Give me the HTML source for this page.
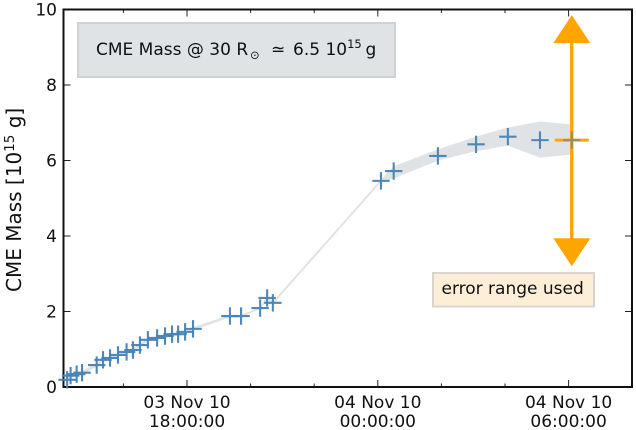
<!DOCTYPE html>
<html>
<head>
<meta charset="utf-8">
<title>CME Mass chart</title>
<style>
html,body{margin:0;padding:0;background:#fff;width:636px;height:430px;overflow:hidden}
svg{display:block}
text{font-family:"DejaVu Sans","Liberation Sans",sans-serif;fill:#111}
</style>
</head>
<body>
<svg id="chart" width="636" height="430" viewBox="0 0 636 430" xmlns="http://www.w3.org/2000/svg">
  <g id="band-layer"></g>
  <g id="tick-layer"></g>
  <rect x="63.5" y="9.5" width="568.5" height="377.5" fill="none" stroke="#111" stroke-width="2"/>
  <g id="label-layer" font-size="17"></g>
  <text transform="translate(21,292) rotate(-90)" font-size="20">CME Mass [10<tspan dy="-7" font-size="13.5">15</tspan><tspan dy="7"> g]</tspan></text>

  <rect x="78" y="23" width="317" height="54" fill="#e0e3e6" stroke="#cfd2d3" stroke-width="2"/>
  <text y="55" font-size="17"><tspan x="96">CME Mass @ 30 R</tspan><tspan x="250" font-size="11.5" dy="4">⊙</tspan><tspan x="271" dy="-4">≃</tspan><tspan x="293">6.5 10</tspan><tspan font-size="11.5" dy="-7">15</tspan><tspan x="365.5" dy="7">g</tspan></text>

  <rect x="433" y="273" width="161" height="33.5" fill="#fdeed8" stroke="#d9d5cd" stroke-width="2"/>
  <text x="441.5" y="294" font-size="17">error range used</text>

  <g id="error-layer"></g>
  <g id="marker-layer"></g>
</svg>
<script>
var hoursFrom18h = [-3.77,-3.66,-3.47,-3.30,-2.84,-2.64,-2.42,-2.17,-1.90,-1.70,-1.48,-1.23,-0.94,-0.69,-0.47,-0.28,-0.06,0.19,1.35,1.70,2.30,2.52,2.70,6.10,6.50,7.89,9.09,10.09,11.10,12.10];
var massValues = [0.19,0.30,0.34,0.38,0.58,0.72,0.77,0.85,0.93,0.98,1.11,1.25,1.30,1.35,1.40,1.40,1.46,1.54,1.88,1.88,2.09,2.36,2.23,5.46,5.72,6.12,6.43,6.63,6.54,6.54];
var massUpper = [0.22,0.33,0.37,0.41,0.61,0.75,0.80,0.88,0.96,1.01,1.14,1.28,1.33,1.38,1.43,1.43,1.49,1.57,1.90,1.90,2.10,2.37,2.25,5.48,5.83,6.28,6.62,6.86,7.02,6.94];
var massLower = [0.16,0.27,0.31,0.35,0.55,0.69,0.74,0.82,0.90,0.95,1.08,1.22,1.27,1.32,1.37,1.37,1.43,1.51,1.86,1.86,2.08,2.35,2.21,5.44,5.54,6.01,6.26,6.41,6.09,6.17];
var xMajorHours = [0,6,12];
var xMinorHours = [-2,2,4,8,10];
var xDateLabels = ["03 Nov 10","04 Nov 10","04 Nov 10"];
var xTimeLabels = ["18:00:00","00:00:00","06:00:00"];
var yTickValues = [0,2,4,6,8,10];
var errorTop = [9.85];
var errorBottom = [3.2];

var SVGNS = "http://www.w3.org/2000/svg";
function xPos(h){ return 187 + h * 31.8; }
function yPos(m){ return 387 - m * 37.75; }
function make(tag, parent){
  var el = document.createElementNS(SVGNS, tag);
  document.getElementById(parent).appendChild(el);
  return el;
}
function setAll(el, attrs){
  for (var k in attrs) el.setAttribute(k, attrs[k]);
}

/* uncertainty band */
var bandPts = [];
hoursFrom18h.forEach(function(h,i){ bandPts.push(xPos(h).toFixed(1)+","+yPos(massUpper[i]).toFixed(1)); });
for (var i = hoursFrom18h.length-1; i >= 0; i--){ bandPts.push(xPos(hoursFrom18h[i]).toFixed(1)+","+yPos(massLower[i]).toFixed(1)); }
var band = make("polygon","band-layer");


setAll(band,{points:bandPts.join(" "),fill:"#e0e3e6",stroke:"#e0e3e6","stroke-width":1,"stroke-linejoin":"round"});

/* ticks */
function xTick(h,len,name){
  [[387,387-len],[9.5,9.5+len]].forEach(function(p){
    var t = make("line","tick-layer");
    
    
    setAll(t,{x1:xPos(h),x2:xPos(h),y1:p[0],y2:p[1],stroke:"#222","stroke-width":1});
  });
}
xMajorHours.forEach(function(h){ xTick(h,7,"x-major-tick"); });
xMinorHours.forEach(function(h){ xTick(h,3.5,"x-minor-tick"); });
yTickValues.forEach(function(v){
  [[63.5,70.5],[632,625]].forEach(function(p){
    var t = make("line","tick-layer");
    
    
    setAll(t,{x1:p[0],x2:p[1],y1:yPos(v),y2:yPos(v),stroke:"#222","stroke-width":1});
  });
  var l = make("text","label-layer");
  
  
  setAll(l,{x:57,y:Math.max(yPos(v)+6,13.5),"text-anchor":"end"});
  l.textContent = String(v);
});
xMajorHours.forEach(function(h,i){
  var d = make("text","label-layer");
  
  
  setAll(d,{x:xPos(h),y:408,"text-anchor":"middle"});
  d.textContent = xDateLabels[i];
  var t = make("text","label-layer");
  
  
  setAll(t,{x:xPos(h),y:427,"text-anchor":"middle"});
  t.textContent = xTimeLabels[i];
});

/* error range arrow, anchored on the last measurement */
var lastIdx = hoursFrom18h.length-1;
var ex = xPos(hoursFrom18h[lastIdx]);
var em = yPos(massValues[lastIdx]);
var shaft = make("line","error-layer");


setAll(shaft,{x1:ex,x2:ex,y1:yPos(errorTop[0])+10,y2:yPos(errorBottom[0])-10,stroke:"#ffa500","stroke-width":3.4});
var up = make("polygon","error-layer");


setAll(up,{points:[ex,yPos(errorTop[0]),ex+18.5,yPos(errorTop[0])+28,ex-18.5,yPos(errorTop[0])+28].join(" "),fill:"#ffa500"});
var down = make("polygon","error-layer");


setAll(down,{points:[ex,yPos(errorBottom[0]),ex+18.5,yPos(errorBottom[0])-28,ex-18.5,yPos(errorBottom[0])-28].join(" "),fill:"#ffa500"});
var cap = make("line","error-layer");


setAll(cap,{x1:ex-17,x2:ex+17,y1:em,y2:em,stroke:"#ffa500","stroke-width":3});

/* markers */
hoursFrom18h.forEach(function(h,i){
  var x = xPos(h), y = yPos(massValues[i]), r = 8.7;
  var m = make("path","marker-layer");
  
  
  setAll(m,{d:"M"+(x-r)+" "+y+"H"+(x+r)+"M"+x+" "+(y-r)+"V"+(y+r),fill:"none",stroke:"#4682b4","stroke-width":2.1,opacity:i===lastIdx?0.6:0.95});
});
</script>
</body>
</html>
